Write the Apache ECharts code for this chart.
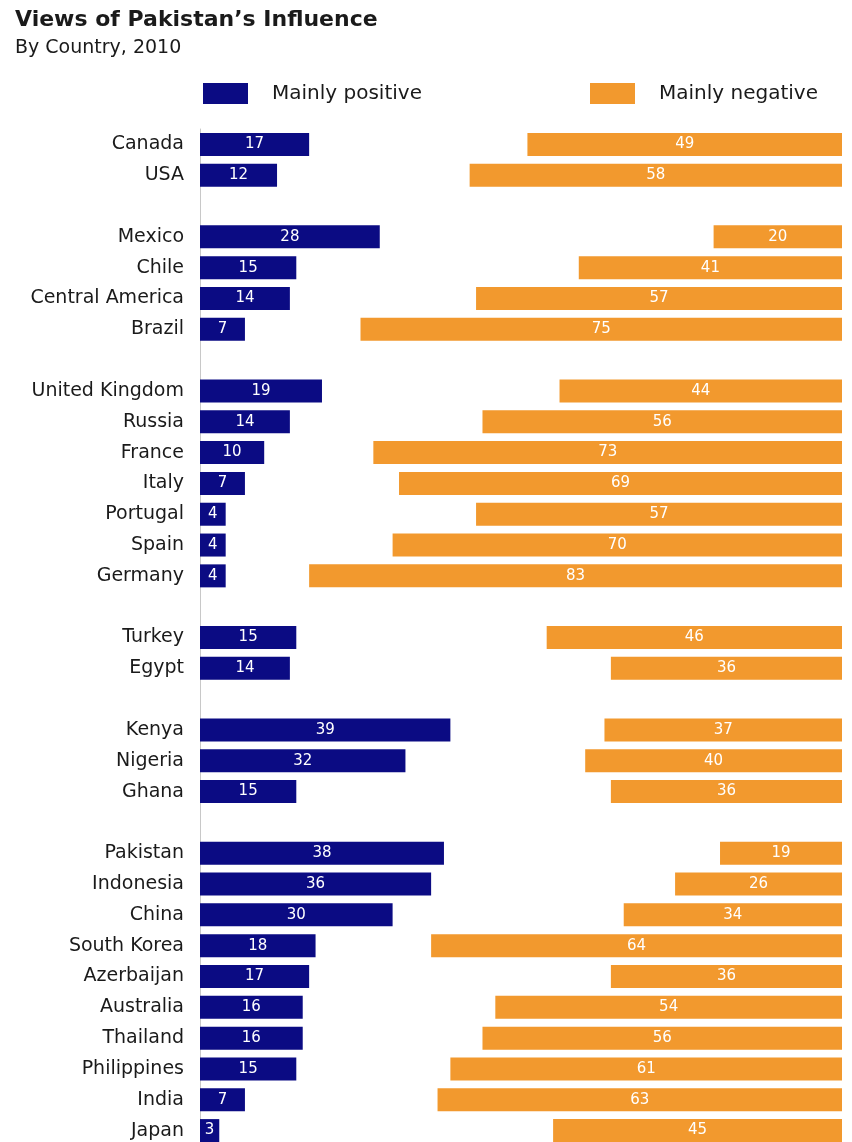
<!DOCTYPE html>
<html><head><meta charset="utf-8">
<script src="https://cdn.jsdelivr.net/npm/echarts@6/dist/echarts.min.js"></script>
<style>html,body{margin:0;padding:0;background:#fff;overflow:hidden}#c{width:852px;height:1150px}</style>
</head><body><div id="c"></div>
<script>
const categories = ['Canada','USA','',
  'Mexico','Chile','Central America','Brazil','',
  'United Kingdom','Russia','France','Italy','Portugal','Spain','Germany','',
  'Turkey','Egypt','',
  'Kenya','Nigeria','Ghana','',
  'Pakistan','Indonesia','China','South Korea','Azerbaijan','Australia','Thailand','Philippines','India','Japan'];
const positive = [17,12,null,
  28,15,14,7,null,
  19,14,10,7,4,4,4,null,
  15,14,null,
  39,32,15,null,
  38,36,30,18,17,16,16,15,7,3];
const negative = [49,58,null,
  20,41,57,75,null,
  44,56,73,69,57,70,83,null,
  46,36,null,
  37,40,36,null,
  19,26,34,64,36,54,56,61,63,45];
const titleText = 'Views of Pakistan\u2019s Influence';
const subtitleText = 'By Country, 2010';

const FONT = '"DejaVu Sans", sans-serif';
const BLUE = '#0b0b83';
const ORANGE = '#f2992e';
const chart = echarts.init(document.getElementById('c'), null, {renderer:'canvas'});
const lbl = {show:true, position:'inside', color:'#fff', fontSize:15, fontFamily:FONT};
const legendText = {fontSize:20, color:'#1a1a1a', fontFamily:FONT, padding:[0,0,0,19]};
chart.setOption({
  animation:false,
  textStyle:{fontFamily:FONT},
  title:{text:titleText, subtext:subtitleText, left:10, top:4, itemGap:8,
    textStyle:{fontSize:22, fontWeight:'bold', color:'#1a1a1a', fontFamily:FONT},
    subtextStyle:{fontSize:19, color:'#1a1a1a', fontFamily:FONT}},
  legend:[
    {left:198, top:78, itemWidth:45, itemHeight:21, icon:'rect', textStyle:legendText, data:['Mainly positive']},
    {left:585, top:78, itemWidth:45, itemHeight:21, icon:'rect', textStyle:legendText, data:['Mainly negative']}
  ],
  grid:{left:200, right:10, top:129, height:1017, containLabel:false},
  xAxis:[
    {type:'value', min:0, max:100, show:false},
    {type:'value', min:0, max:100, inverse:true, show:false}
  ],
  yAxis:{type:'category', data:categories, inverse:true,
    axisLine:{show:true, lineStyle:{color:'#c8c8c8', width:1}},
    axisTick:{show:false}, splitLine:{show:false},
    axisLabel:{fontSize:19, color:'#1a1a1a', margin:16, fontFamily:FONT}},
  series:[
    {name:'Mainly positive', type:'bar', xAxisIndex:0, data:positive, barWidth:23, barGap:'-100%',
      itemStyle:{color:BLUE}, label:lbl},
    {name:'Mainly negative', type:'bar', xAxisIndex:1, data:negative, barWidth:23, barGap:'-100%',
      itemStyle:{color:ORANGE}, label:lbl}
  ]
});
</script></body></html>
